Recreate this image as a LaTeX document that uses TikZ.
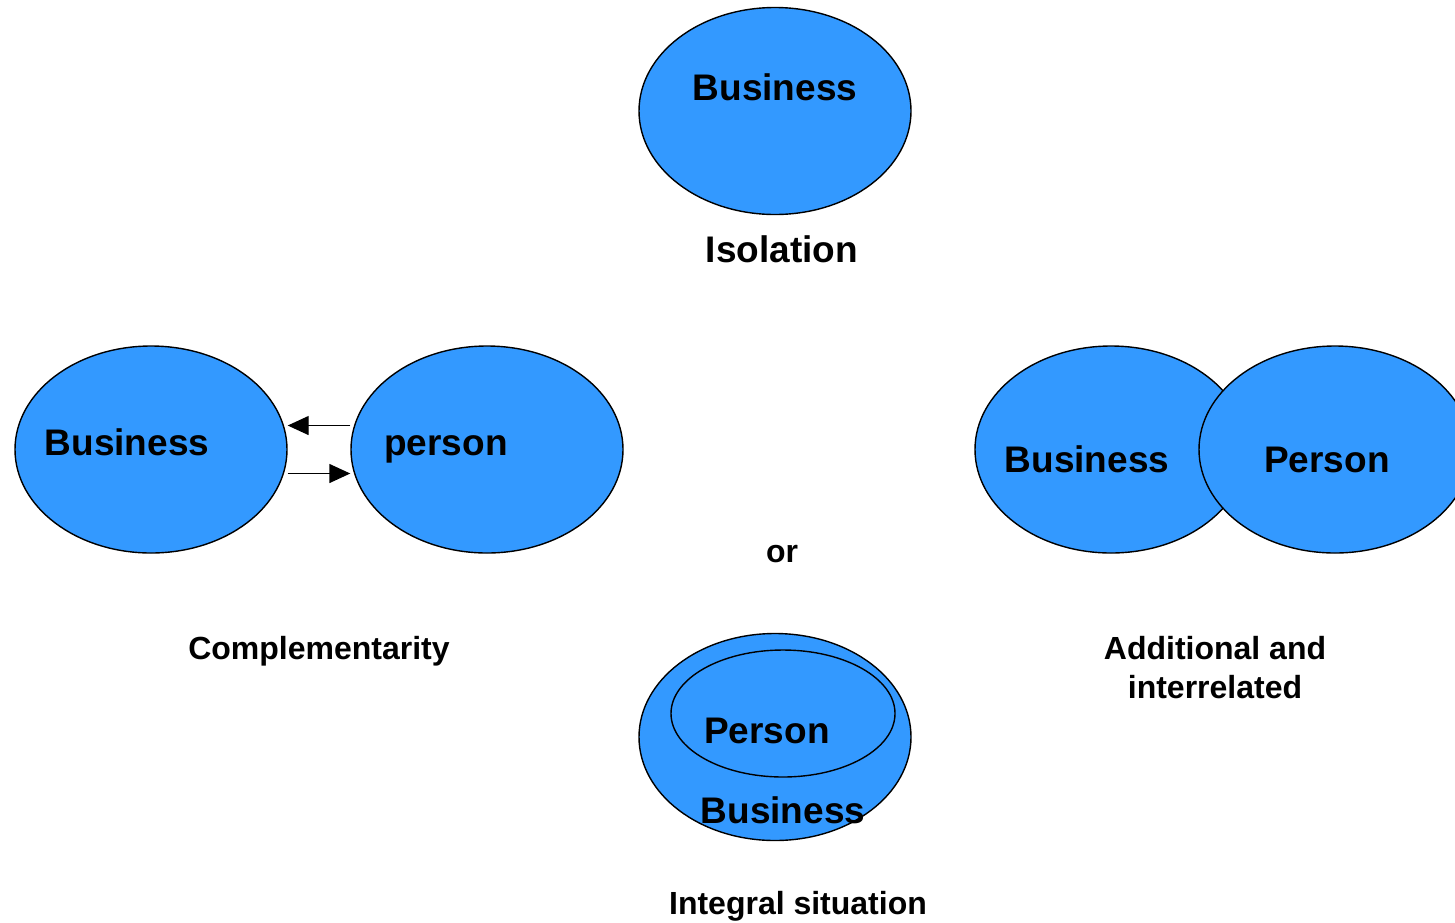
\documentclass[tikz,border=0pt]{standalone}
\usepackage{fontspec}
\setmainfont{Liberation Sans}
\usetikzlibrary{shapes.geometric,arrows.meta}
\definecolor{bubble}{HTML}{3399FF}
\begin{document}
\begin{tikzpicture}[x=1pt,y=-1pt,>={Triangle[length=21pt,width=19pt]},
    blob/.style={ellipse,draw,line width=1.4pt,fill=bubble,inner sep=0pt,
        minimum width=272pt,minimum height=207pt},
    big/.style={anchor=base,font=\fontsize{37}{40}\selectfont\bfseries},
    small/.style={anchor=base,font=\fontsize{32}{39}\selectfont\bfseries,align=center}]
            \useasboundingbox (0,0) rectangle (1455,922);
            % isolation
            \node[blob] (iso) at (775,111) {};
            \node[big] (isoB) at (775,100) {Business};
            \node[big] (isoT) at (782,262) {Isolation};
            % complementarity
            \node[blob] (compB) at (151,449.5) {};
            \node[blob] (compP) at (487,449.5) {};
            \draw[->,line width=1.4pt] ([yshift=24pt]compP.west) -- ([yshift=24pt]compB.east);
            \draw[->,line width=1.4pt] ([yshift=-24pt]compB.east) -- ([yshift=-24pt]compP.west);
            \node[big] (compBt) at (127,455) {Business};
            \node[big] (compPt) at (446,455) {person};
            \node[small] (compT) at (319,659) {Complementarity};
            % additional and interrelated
            \node[blob] (addB) at (1111,449.5) {};
            \node[blob] (addP) at (1335,449.5) {};
            \node[big] (addBt) at (1087,472) {Business};
            \node[big] (addPt) at (1327,472) {Person};
            \node[small] (addT) at (1215,698) {Additional and\\interrelated};
            % integral
            \node[small] (or) at (782,562) {or};
            \node[blob] (intB) at (775,737) {};
            \node[blob,minimum width=224pt,minimum height=127pt] (intP) at (783,713.5) {};
            \node[big] (intPt) at (767,743) {Person};
            \node[big] (intBt) at (783,823) {Business};
            \node[small] (intT) at (798,914) {Integral situation};
\end{tikzpicture}
\end{document}
